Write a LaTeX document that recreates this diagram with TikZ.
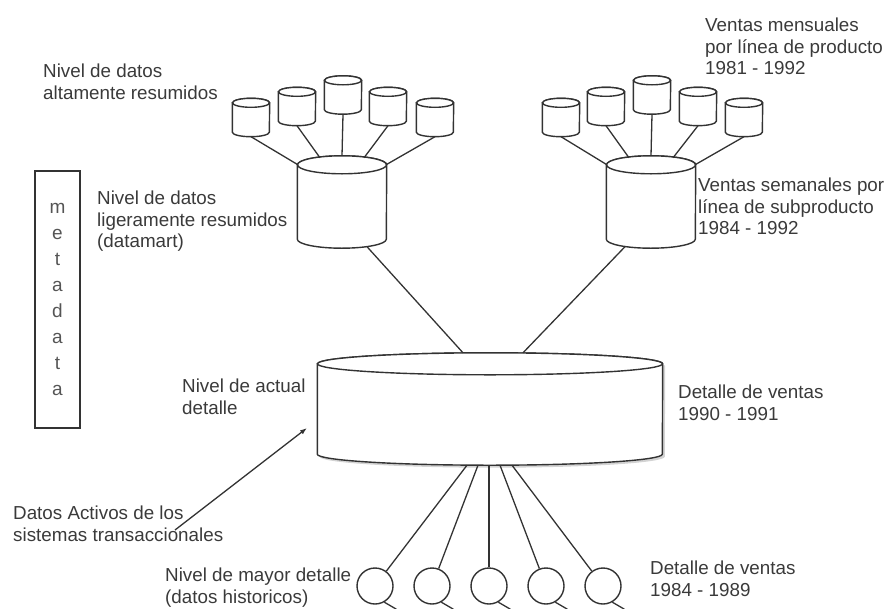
\documentclass[tikz,border=0pt]{standalone}
\usepackage{fontspec}
\setmainfont{Liberation Sans}
\usetikzlibrary{calc,arrows.meta,shadows}
\definecolor{DWLine}{HTML}{333333}
\definecolor{DWText}{HTML}{3A3A3A}
\definecolor{DWMeta}{HTML}{555555}

% cylinder drawn round a named box: box, x radius, y radius
\newcommand{\drumcyl}[4][]{%
  \path[cylline, #1] ($(#2.north west)+(0,#4)$) -- ($(#2.south west)+(0,-#4)$)
    arc[start angle=180, end angle=360, x radius=#3pt, y radius=#4pt]
    -- ($(#2.north east)+(0,#4)$)
    arc[start angle=0, end angle=180, x radius=#3pt, y radius=#4pt] -- cycle;
  \draw[cylline] ($(#2.north)+(0,#4)$) ellipse[x radius=#3pt, y radius=#4pt];
}

\begin{document}
\begin{tikzpicture}[x=1pt, y=-1pt,
  cylline/.style={draw=DWLine, line width=1.4pt, fill=white},
  smallcyl/.style={inner sep=0pt, minimum width=37pt, minimum height=38pt},
  midcyl/.style={inner sep=0pt, minimum width=89pt, minimum height=92pt},
  disk/.style={circle, draw=DWLine, line width=1.4pt, minimum size=36pt, inner sep=0pt},
  lbl/.style={anchor=north west, align=left, inner sep=0pt, text=DWText,
    font=\fontsize{18.8}{21.5}\selectfont},
  link/.style={draw=DWLine, line width=1.3pt},
]
  \useasboundingbox (0,0) rectangle (888,608);

  % metadata column
  \node[draw=DWLine, line width=1.4pt, minimum width=45pt, minimum height=257pt,
    inner sep=0pt, align=center, text=DWMeta, font=\fontsize{19}{26}\selectfont]
    (meta) at (57.5,299.5) {m\\e\\t\\a\\d\\a\\t\\a};

  % highly summarized level
  \foreach \x/\y [count=\i] in {251/117.5, 297/106.5, 343/95, 388/106.5, 435/117.5} {
    \node[smallcyl] (ls\i) at (\x,\y) {};
    \drumcyl{ls\i}{18.5}{4.5}
  }
  \foreach \x/\y [count=\i] in {561/117.5, 606/106.5, 652/95, 698/106.5, 744/117.5} {
    \node[smallcyl] (rs\i) at (\x,\y) {};
    \drumcyl{rs\i}{18.5}{4.5}
  }

  % lightly summarized level (datamart)
  \node[midcyl] (lm) at (342,202) {};
  \node[midcyl] (rm) at (651,202) {};
  \drumcyl{lm}{44.5}{9}
  \drumcyl{rm}{44.5}{9}

  % current detail
  \node[inner sep=0pt, minimum width=345pt, minimum height=112pt] (big) at (490,409) {};
  \drumcyl[drop shadow={shadow xshift=2.5pt, shadow yshift=-2.5pt, opacity=.35}]{big}{172.5}{11}

  % older detail
  \foreach \x [count=\i] in {375, 432, 489, 546, 603}
    \node[disk] (hd\i) at (\x,586) {};

  % connectors
  \foreach \i/\dx/\dy in {1/-44/9, 2/-22/2, 3/0/0, 4/22/2, 5/44/9} {
    \draw[link] (ls\i.south) -- ($(lm.north)+(\dx,\dy)$);
    \draw[link] (rs\i.south) -- ($(rm.north)+(\dx,\dy)$);
  }
  \draw[link] ($(lm.south)+(25,-1.5)$) -- ($(big.north)+(-27,0)$);
  \draw[link] ($(rm.south)+(-26,-1.5)$) -- ($(big.north)+(33,0)$);
  \foreach \i/\dx in {1/-23, 2/-12, 3/-1, 4/10, 5/22}
    \draw[link] ($(big.south)+(\dx,0)$) -- (hd\i);
  \foreach \i in {1,...,5}
    \draw[link] (hd\i.-60) -- ++(12,7);

  % labels
  \node[lbl] (altres) at (43,64) {Nivel de datos\\altamente resumidos};
  \node[lbl] (ligres) at (97,191) {Nivel de datos\\ligeramente resumidos\\(datamart)};
  \node[lbl] (mens) at (705,18) {Ventas mensuales\\por línea de producto\\1981 - 1992};
  \node[lbl] (sem) at (698,178) {Ventas semanales por\\línea de subproducto\\1984 - 1992};
  \node[lbl] (actual) at (182,379) {Nivel de actual\\detalle};
  \node[lbl] (det9091) at (678,385) {Detalle de ventas\\1990 - 1991};
  \node[lbl] (activos) at (13,506) {Datos Activos de los\\sistemas transaccionales};
  \node[lbl] (mayor) at (165,568) {Nivel de mayor detalle\\(datos historicos)};
  \node[lbl] (det8489) at (650,561) {Detalle de ventas\\1984 - 1989};

  % feed from the transactional systems
  \coordinate (feed) at (175,530);
  \coordinate (feedtip) at (307,428);
  \draw[link, -{Latex[length=7pt, width=5pt]}] (feed) -- (feedtip);
\end{tikzpicture}
\end{document}
